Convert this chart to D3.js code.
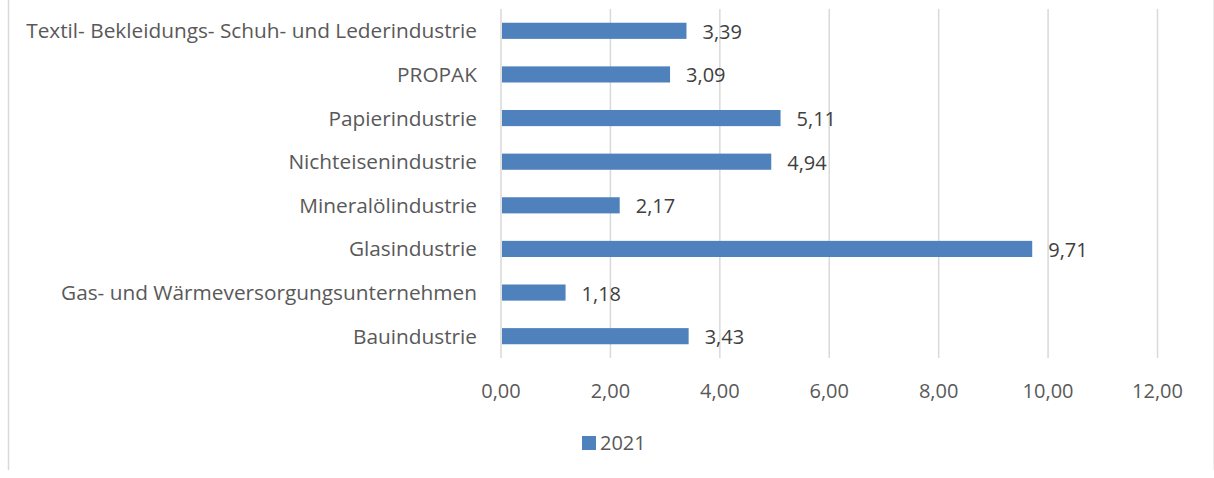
<!DOCTYPE html>
<html><head><meta charset="utf-8">
<script src="https://cdn.jsdelivr.net/npm/d3@7"></script>
<style>body{margin:0;background:#fff;}svg{display:block;font-family:"Open Sans","Liberation Sans",sans-serif;}</style>
</head><body>
<script>
const categories = ["Textil- Bekleidungs- Schuh- und Lederindustrie","PROPAK","Papierindustrie","Nichteisenindustrie","Mineralölindustrie","Glasindustrie","Gas- und Wärmeversorgungsunternehmen","Bauindustrie"];
const values2021 = [3.39,3.09,5.11,4.94,2.17,9.71,1.18,3.43];
const xTicks = [0,2,4,6,8,10,12];
const seriesName = "2021";

const W=1214,H=478;
const svg=d3.select("body").append("svg").attr("width",W).attr("height",H);
svg.append("rect").attr("width",W).attr("height",H).attr("fill","#fff");
svg.append("line").attr("x1",8.5).attr("x2",8.5).attr("y1",0).attr("y2",470).attr("stroke","#d9d9d9").attr("stroke-width",1.5);
svg.append("line").attr("x1",1213.5).attr("x2",1213.5).attr("y1",0).attr("y2",470).attr("stroke","#eeeeee").attr("stroke-width",1);

const x=d3.scaleLinear().domain([0,12]).range([501,1157.5]);
const y=d3.scaleBand().domain(categories).range([9,358]).paddingInner(0.63).paddingOuter(0.315);
const fmt=v=>d3.format(".2f")(v).replace(".",",");
const col="#595959";

svg.append("g").selectAll("line").data(xTicks).join("line")
 .attr("x1",d=>x(d)).attr("x2",d=>x(d)).attr("y1",9).attr("y2",358)
 .attr("stroke","#d9d9d9").attr("stroke-width",1.5);

svg.append("g").selectAll("rect").data(categories).join("rect")
 .attr("x",x(0)+1).attr("y",d=>y(d)).attr("height",y.bandwidth())
 .attr("width",(d,i)=>x(values2021[i])-x(0)-1).attr("fill","#4f81bd");

svg.append("g").selectAll("text").data(categories).join("text")
 .attr("x",(d,i)=>x(values2021[i])+16).attr("y",d=>y(d)+y.bandwidth()/2+8)
 .attr("fill","#404040").attr("font-size",20).text((d,i)=>fmt(values2021[i]));

svg.append("g").selectAll("text").data(categories).join("text")
 .attr("x",477).attr("y",d=>y(d)+y.bandwidth()/2+7.5).attr("text-anchor","end")
 .attr("fill",col).attr("font-size",20.8).text(d=>d);

svg.append("g").selectAll("text").data(xTicks).join("text")
 .attr("x",d=>x(d)).attr("y",398).attr("text-anchor","middle")
 .attr("fill",col).attr("font-size",20).text(d=>fmt(d));

svg.append("rect").attr("x",582).attr("y",436).attr("width",14).attr("height",14).attr("fill","#4f81bd");
svg.append("text").attr("x",600).attr("y",450).attr("fill",col).attr("font-size",20).text(seriesName);
</script>
</body></html>
